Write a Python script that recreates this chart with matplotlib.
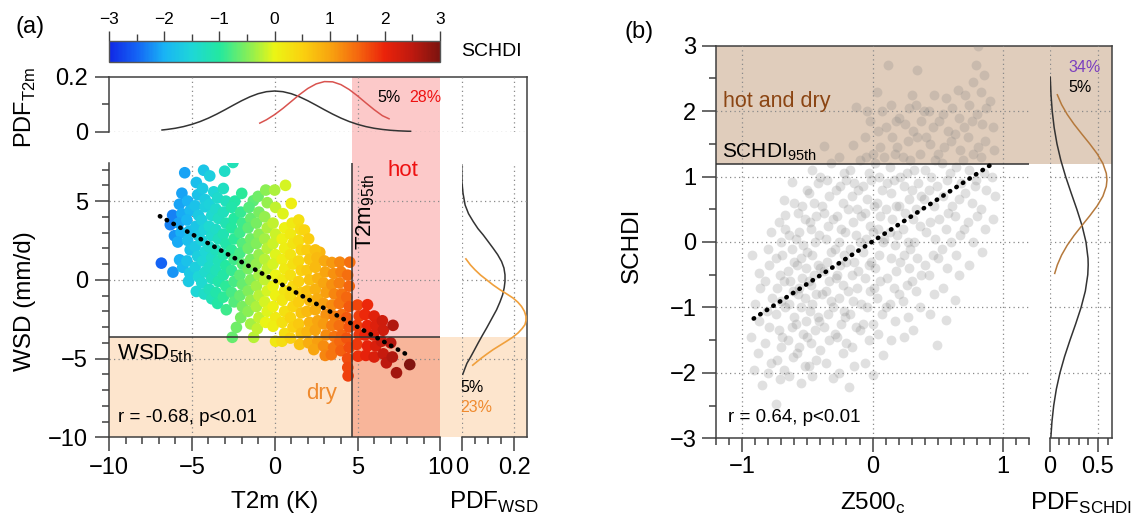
import numpy as np
import matplotlib
matplotlib.use('Agg')
import matplotlib.pyplot as plt
from matplotlib.colors import LinearSegmentedColormap, Normalize
from matplotlib.transforms import blended_transform_factory as blend
from matplotlib.ticker import MultipleLocator, FixedLocator
from matplotlib.patches import Rectangle

plt.rcParams['font.family'] = ['Liberation Sans', 'DejaVu Sans']
plt.rcParams['mathtext.fontset'] = 'custom'
plt.rcParams['mathtext.rm'] = 'Liberation Sans'
plt.rcParams['axes.unicode_minus'] = True

''' Data: panel (a) '''
# T2m (K), WSD (mm/d), SCHDI colour of each point
t2m = [-6.84, -6.14,
       -6.16, -6.3, -6.05,
       -5.43, -5.6, -5.75, -5.6, -5.8, -5.65, -5.85, -5.74, -5.55,
       -5.25, -5.1, -5.3, -5.15, -5.25, -5.1, -5.3, -5.13, -5.2,
       -4.73, -4.65, -4.8, -4.6, -4.75, -4.6, -4.8, -4.65, -4.8, -4.6, -4.73,
       -4.29, -4.35, -4.2, -4.2, -4.4, -4.25, -4.4, -4.2, -4.35, -4.2, -4.4, -4.25,
       -3.92, -3.68, -3.95, -3.8, -3.95, -3.8, -3.95, -3.8, -3.95, -3.8, -3.95, -3.8,
       -3.45, -3.55, -3.4, -3.55, -3.4, -3.55, -3.4, -3.55, -3.4, -3.55, -3.45,
       -3.02, -3.1, -2.95, -3.1, -2.95, -3.1, -2.95, -3.1, -2.95, -3.1, -2.95, -3.1, -2.92,
       -2.52, -2.4, -2.6, -2.45, -2.6, -2.45, -2.6, -2.45, -2.6, -2.45, -2.6, -2.45, -2.56, -2.31,
       -1.99, -2.05, -1.95, -2.1, -1.95, -2.1, -1.95, -2.1, -1.95, -2.1, -1.95, -2.05,
       -1.29, -1.55, -1.45, -1.6, -1.45, -1.6, -1.45, -1.6, -1.45, -1.6, -1.45, -1.6, -1.45, -1.27,
       -1.0, -0.95, -1.1, -0.95, -1.1, -0.95, -1.1, -0.95, -1.1, -0.95, -1.1, -0.95, -1.05,
       -0.54, -0.45, -0.6, -0.45, -0.6, -0.45, -0.6, -0.45, -0.6, -0.45, -0.6, -0.45, -0.55,
       0.0, 0.05, -0.1, 0.05, -0.1, 0.05, -0.1, 0.05, -0.1, 0.05, -0.1, 0.05, -0.1, 0.05,
       0.65, 0.5, 0.6, 0.45, 0.6, 0.45, 0.6, 0.45, 0.6, 0.45, 0.6, 0.45, 0.6, 0.44,
       1.0, 1.05, 0.95, 1.1, 0.95, 1.1, 0.95, 1.1, 0.95, 1.1, 0.95, 1.1, 0.95,
       1.45, 1.55, 1.45, 1.6, 1.45, 1.6, 1.45, 1.6, 1.45, 1.6, 1.45, 1.6, 1.5,
       1.8, 2.05, 1.95, 2.1, 1.95, 2.1, 1.95, 2.1, 1.95, 2.1, 1.95, 2.05,
       2.72, 2.45, 2.55, 2.45, 2.6, 2.45, 2.6, 2.45, 2.6, 2.45, 2.6, 2.36,
       3.0, 3.05, 2.95, 3.1, 2.95, 3.1, 2.95, 3.1, 2.95, 3.05,
       3.45, 3.55, 3.45, 3.6, 3.45, 3.6, 3.45, 3.6, 3.42, 3.55,
       3.93, 4.0, 3.9, 4.05, 3.9, 4.05, 3.9, 4.05, 3.93, 4.0,
       4.53, 4.4, 4.5, 4.35, 4.5, 4.35, 4.5, 4.35, 4.5, 4.4, 4.41, 4.43,
       5.0, 5.1, 4.95, 5.1, 4.95, 5.03,
       5.6, 5.45, 5.6, 5.45, 5.6, 5.5,
       6.0, 6.1, 5.95, 6.1, 6.0,
       6.5, 6.55, 6.45, 6.55, 6.74,
       7.14, 7.0, 7.1, 7.35,
       8.15]
wsd = [1.06, 0.49,
       4.1, 3.5, 2.8,
       6.8, 5.5, 4.8, 4.2, 3.6, 3.0, 2.4, 1.27, 0.8,
       5.0, 4.4, 3.8, 3.1, 2.5, 1.9, 1.2, 0.42, -0.1,
       6.18, 5.4, 4.7, 4.1, 3.4, 2.8, 2.1, 1.5, 0.8, 0.2, -0.74,
       6.96, 5.8, 5.1, 4.64, 3.8, 3.2, 2.5, 1.8, 1.2, 0.5, -0.2, -0.9,
       6.6, 5.59, 4.8, 4.1, 3.4, 2.8, 2.1, 1.4, 0.8, 0.1, -0.6, -1.2,
       5.2, 4.5, 3.9, 3.2, 2.6, 1.9, 1.2, 0.6, -0.1, -0.8, -1.5,
       6.9, 5.8, 5.0, 4.3, 3.6, 2.9, 2.3, 1.6, 0.9, 0.3, -0.4, -1.1, -1.9,
       7.45, 5.0, 4.6, 3.9, 3.3, 2.6, 1.9, 1.3, 0.6, -0.1, -0.8, -1.4, -3.65, -3.02,
       5.49, 4.3, 3.6, 3.0, 2.3, 1.7, 1.0, 0.3, -0.3, -1.0, -1.7, -2.4,
       5.02, 4.6, 3.9, 3.3, 2.6, 2.0, 1.3, 0.7, 0.0, -0.7, -1.3, -2.0, -2.8, -3.65,
       5.3, 4.3, 3.6, 2.9, 2.3, 1.6, 1.0, 0.3, -0.4, -1.0, -1.7, -2.4, -3.1,
       5.7, 4.9, 4.0, 3.3, 2.6, 2.0, 1.3, 0.7, 0.0, -0.7, -1.4, -2.0, -2.7,
       5.7, 4.6, 3.6, 2.9, 2.3, 1.6, 1.0, 0.3, -0.4, -1.0, -1.7, -2.4, -2.95, -3.9,
       6.0, 4.2, 3.3, 2.6, 2.0, 1.3, 0.7, 0.0, -0.7, -1.3, -2.0, -2.7, -3.4, -3.9,
       4.85, 3.6, 2.9, 2.3, 1.6, 1.0, 0.3, -0.4, -1.0, -1.7, -2.4, -3.0, -3.7,
       3.8, 3.2, 2.5, 1.9, 1.2, 0.6, -0.1, -0.8, -1.4, -2.1, -2.8, -3.4, -4.1,
       3.16, 2.6, 1.9, 1.3, 0.6, 0.0, -0.7, -1.3, -2.0, -2.7, -3.3, -4.0,
       1.75, 1.9, 1.4, 0.8, 0.1, -0.6, -1.2, -1.9, -2.6, -3.2, -3.9, -4.43,
       1.2, 0.5, -0.2, -0.8, -1.5, -2.2, -2.8, -3.5, -4.2, -4.8,
       1.1, 0.4, -0.3, -0.9, -1.6, -2.3, -2.9, -3.6, -4.75, -4.3,
       1.12, 0.5, -0.2, -0.9, -1.5, -2.2, -2.9, -3.5, -3.9, -4.5,
       1.12, 0.3, -0.4, -1.1, -1.7, -2.4, -3.0, -3.7, -4.3, -5.0, -5.57, -6.1,
       -1.6, -2.3, -2.9, -3.5, -4.1, -4.85,
       -1.58, -2.2, -2.9, -3.5, -4.2, -4.8,
       -2.3, -2.9, -3.5, -4.2, -4.9,
       -2.6, -3.2, -3.9, -4.7, -5.27,
       -2.89, -4.0, -4.9, -5.9,
       -5.38]
schdi = [-2.5, -2.2,
         -2.3, -2.3, -2.2,
         -2.1, -2.1, -2.1, -2.05, -2.1, -2.0, -2.05, -2.0, -1.9,
         -2.0, -1.9, -1.95, -1.85, -1.85, -1.8, -1.8, -1.7, -1.7,
         -1.85, -1.8, -1.8, -1.7, -1.75, -1.65, -1.7, -1.6, -1.6, -1.5, -1.5,
         -1.75, -1.7, -1.65, -1.6, -1.6, -1.55, -1.55, -1.5, -1.5, -1.4, -1.45, -1.35,
         -1.6, -1.5, -1.55, -1.45, -1.45, -1.4, -1.4, -1.35, -1.35, -1.25, -1.25, -1.2,
         -1.4, -1.4, -1.3, -1.35, -1.25, -1.25, -1.2, -1.2, -1.1, -1.1, -1.05,
         -1.35, -1.3, -1.25, -1.25, -1.15, -1.15, -1.1, -1.1, -1.0, -1.05, -0.95, -0.95, -0.85,
         -1.2, -1.05, -1.1, -1.0, -1.0, -0.95, -0.95, -0.85, -0.9, -0.8, -0.8, -0.75, -0.65, -0.6,
         -0.95, -0.9, -0.85, -0.85, -0.75, -0.8, -0.7, -0.7, -0.65, -0.65, -0.55, -0.55,
         -0.7, -0.75, -0.65, -0.7, -0.6, -0.6, -0.55, -0.55, -0.5, -0.5, -0.4, -0.45, -0.35, -0.25,
         -0.6, -0.55, -0.55, -0.45, -0.5, -0.4, -0.4, -0.35, -0.35, -0.25, -0.3, -0.2, -0.2,
         -0.45, -0.4, -0.4, -0.3, -0.35, -0.25, -0.25, -0.2, -0.2, -0.1, -0.1, -0.05, 0.0,
         -0.3, -0.2, -0.2, -0.15, -0.15, -0.05, -0.1, 0.0, 0.0, 0.05, 0.05, 0.15, 0.1, 0.2,
         -0.1, -0.05, 0.05, 0.05, 0.1, 0.1, 0.15, 0.15, 0.25, 0.2, 0.3, 0.3, 0.35, 0.35,
         0.1, 0.15, 0.15, 0.25, 0.25, 0.3, 0.3, 0.4, 0.35, 0.45, 0.45, 0.5, 0.5,
         0.3, 0.35, 0.35, 0.45, 0.4, 0.5, 0.5, 0.55, 0.55, 0.65, 0.6, 0.7, 0.7,
         0.45, 0.55, 0.55, 0.65, 0.6, 0.7, 0.7, 0.75, 0.75, 0.85, 0.8, 0.9,
         0.8, 0.7, 0.75, 0.75, 0.85, 0.85, 0.9, 0.9, 1.0, 1.0, 1.05, 1.0,
         0.95, 1.0, 1.0, 1.05, 1.05, 1.15, 1.1, 1.2, 1.2, 1.25,
         1.1, 1.15, 1.15, 1.25, 1.2, 1.3, 1.3, 1.4, 1.4, 1.4,
         1.25, 1.3, 1.3, 1.4, 1.4, 1.45, 1.45, 1.5, 1.5, 1.55,
         1.45, 1.45, 1.5, 1.5, 1.6, 1.6, 1.65, 1.65, 1.7, 1.7, 1.75, 1.8,
         1.75, 1.8, 1.8, 1.85, 1.85, 1.9,
         1.95, 1.95, 2.0, 2.0, 2.05, 2.05,
         2.1, 2.15, 2.15, 2.2, 2.2,
         2.3, 2.3, 2.35, 2.4, 2.5,
         2.6, 2.55, 2.6, 2.7,
         2.95]

# regression line end points (a)
fit_a_t2m = [-6.93, 8.15]
fit_a_wsd = [4.04, -4.85]

# PDF of T2m: all days (black) and hot days (red)
pdf_t2m_x = [-6.8, -6.5, -6, -5.5, -5, -4.5, -4, -3.5, -3, -2.5, -2, -1.5, -1, -0.5, 0,
             0.5, 1, 1.5, 2, 2.5, 3, 3.5, 4, 4.5, 5, 5.5, 6, 6.5, 7, 7.5, 8, 8.2]
pdf_t2m_all = [0.0062, 0.0082, 0.0125, 0.0186, 0.0267, 0.0369, 0.0494, 0.0639, 0.0798, 0.0964,
               0.1125, 0.1268, 0.1382, 0.1455, 0.148, 0.1455, 0.1382, 0.1268, 0.1125, 0.0964,
               0.0798, 0.0639, 0.0494, 0.0369, 0.0267, 0.0186, 0.0125, 0.0082, 0.0051, 0.0031,
               0.0018, 0.0015]
pdf_t2m_hot_x = [-0.9, -0.5, 0, 0.5, 1, 1.5, 2, 2.5, 3, 3.5, 4, 4.5, 5, 5.5, 6, 6.5, 6.9]
pdf_t2m_hot = [0.0312, 0.0433, 0.0623, 0.085, 0.110, 0.135, 0.1573, 0.1738, 0.1822, 0.1813,
               0.1711, 0.1532, 0.1301, 0.1048, 0.0802, 0.0582, 0.047]

# PDF of WSD: all days (black) and dry days (orange)
pdf_wsd_y = [7.3, 6.2, 5.5, 4.75, 4.2, 3.7, 3.25, 2.85, 2.45, 2.0, 1.6, 1.16, 0.75, 0.32, -0.1,
             -0.5, -0.95, -1.4, -1.9, -2.45, -3.06, -3.55, -4.0, -4.5, -4.96, -5.3, -5.6, -6.0]
pdf_wsd_all = [0.0, 0.001, 0.005, 0.013, 0.026, 0.044, 0.062, 0.082, 0.1, 0.12, 0.137, 0.152,
               0.161, 0.165, 0.165, 0.162, 0.156, 0.146, 0.133, 0.115, 0.095, 0.078, 0.063,
               0.047, 0.032, 0.02, 0.013, 0.004]
pdf_wsd_dry_y = [1.33, 0.95, 0.63, 0.3, 0.0, -0.33, -0.63, -0.9, -1.16, -1.42, -1.69, -2.0, -2.32,
                 -2.6, -2.85, -3.1, -3.37, -3.65, -3.9, -4.17, -4.43, -4.7, -4.96, -5.2, -5.42]
pdf_wsd_dry = [0.016, 0.033, 0.051, 0.072, 0.095, 0.12, 0.146, 0.172, 0.196, 0.214, 0.228, 0.239,
               0.245, 0.245, 0.241, 0.230, 0.215, 0.194, 0.171, 0.145, 0.12, 0.097, 0.076,
               0.058, 0.042]

t2m_95th = 4.64
wsd_5th = -3.63

''' Data: panel (b) '''
z500 = [-0.91, -0.85, -0.88, -0.93, -0.87, -0.9, -0.86, -0.87, -0.92,
        -0.8, -0.78, -0.82, -0.79, -0.81, -0.77, -0.82, -0.79, -0.8, -0.78,
        -0.74, -0.71, -0.73, -0.7, -0.72, -0.74, -0.7, -0.73, -0.71, -0.74, -0.7, -0.72, -0.68,
        -0.64, -0.61, -0.65, -0.62, -0.6, -0.64, -0.61, -0.63, -0.65, -0.6, -0.62, -0.64, -0.67, -0.6, -0.62,
        -0.55, -0.52, -0.56, -0.53, -0.51, -0.55, -0.52, -0.56, -0.54, -0.51, -0.55, -0.53, -0.56, -0.52, -0.54, -0.5,
        -0.46, -0.43, -0.47, -0.44, -0.42, -0.46, -0.43, -0.47, -0.45, -0.42, -0.46, -0.44, -0.47, -0.43, -0.45, -0.42, -0.46,
        -0.3, -0.36, -0.33, -0.37, -0.34, -0.32, -0.36, -0.33, -0.37, -0.35, -0.32, -0.36, -0.34, -0.37, -0.33, -0.35, -0.32, -0.37,
        -0.26, -0.23, -0.27, -0.24, -0.22, -0.26, -0.23, -0.27, -0.25, -0.22, -0.26, -0.24, -0.27, -0.23, -0.25, -0.22, -0.26,
        -0.18, -0.14, -0.16, -0.13, -0.17, -0.15, -0.12, -0.16, -0.14, -0.17, -0.13, -0.15, -0.12, -0.16, -0.14, -0.17, -0.15, -0.13,
        -0.06, -0.03, -0.07, -0.04, -0.02, -0.06, -0.03, -0.07, -0.05, -0.02, -0.06, -0.04, -0.07, -0.03, -0.05, -0.06, -0.02, -0.04,
        0.0, 0.08, 0.04, 0.07, 0.03, 0.06, 0.02, 0.05, 0.08, 0.04, 0.06, 0.03, 0.07, 0.05, 0.02, 0.06, 0.04, 0.07, 0.03,
        0.14, 0.17, 0.13, 0.16, 0.18, 0.14, 0.17, 0.13, 0.15, 0.18, 0.14, 0.16, 0.13, 0.17, 0.15, 0.18, 0.14, 0.12,
        0.24, 0.27, 0.23, 0.26, 0.28, 0.24, 0.27, 0.23, 0.25, 0.28, 0.24, 0.26, 0.23, 0.27, 0.25, 0.28,
        0.31, 0.36, 0.33, 0.37, 0.34, 0.32, 0.36, 0.33, 0.37, 0.35, 0.32, 0.36, 0.34, 0.37, 0.33, 0.34,
        0.44, 0.47, 0.43, 0.46, 0.48, 0.44, 0.47, 0.43, 0.45, 0.48, 0.44, 0.46, 0.43, 0.47,
        0.49, 0.56, 0.54, 0.57, 0.53, 0.56, 0.58, 0.54, 0.57, 0.53, 0.55, 0.58, 0.54, 0.56,
        0.63, 0.66, 0.64, 0.67, 0.63, 0.66, 0.68, 0.64, 0.67, 0.63, 0.66, 0.65,
        0.74, 0.77, 0.73, 0.76, 0.78, 0.74, 0.77, 0.73, 0.76, 0.74, 0.77,
        0.84, 0.86, 0.83, 0.87, 0.85, 0.83, 0.86, 0.84, 0.87, 0.83, 0.85, 0.81,
        0.92, 0.94, 0.91, 0.93, 0.92, 0.9,
        # denser core
        -0.68, -0.69, -0.67, -0.68, -0.69, -0.67,
        -0.58, -0.59, -0.57, -0.58, -0.59, -0.57,
        -0.49, -0.5, -0.48, -0.49, -0.5, -0.48, -0.49,
        -0.4, -0.41, -0.39, -0.4, -0.41, -0.39, -0.4,
        -0.29, -0.3, -0.28, -0.29, -0.3, -0.28,
        -0.2, -0.21, -0.19, -0.2, -0.21, -0.19, -0.2,
        -0.1, -0.09, -0.11, -0.1, -0.09, -0.11, -0.1,
        0.0, 0.01, -0.01, 0.0, 0.01, -0.01, 0.0,
        0.1, 0.11, 0.09, 0.1, 0.11, 0.09, 0.1,
        0.2, 0.21, 0.19, 0.2, 0.21, 0.19, 0.2,
        0.3, 0.29, 0.31, 0.3, 0.29, 0.31, 0.3,
        0.4, 0.41, 0.39, 0.4, 0.41, 0.39,
        0.5, 0.51, 0.49, 0.5, 0.51,
        0.6, 0.61, 0.59, 0.6, 0.61,
        0.7, 0.71, 0.69, 0.7, 0.71,
        0.8, 0.79, 0.81, 0.8, 0.79]
schdi_b = [-1.96, -2.19, -1.7, -1.45, -1.2, -0.95, -0.7, -0.48, -0.2,
           -2.0, -1.85, -1.55, -1.3, -1.05, -0.85, -0.6, -0.35, -0.1, 0.15,
           -2.47, -2.1, -1.8, -1.6, -1.35, -1.1, -0.9, -0.7, -0.5, -0.25, 0.0, 0.3, 0.64,
           -2.05, -1.75, -1.5, -1.3, -1.15, -0.95, -0.75, -0.6, -0.45, -0.3, -0.1, 0.1, 0.41, 0.6, 0.92,
           -2.15, -1.9, -1.6, -1.4, -1.2, -1.0, -0.85, -0.7, -0.55, -0.4, -0.25, -0.05, 0.15, 0.35, 0.55, 0.8,
           -2.05, -1.8, -1.55, -1.35, -1.15, -0.95, -0.8, -0.65, -0.5, -0.35, -0.2, 0.0, 0.2, 0.4, 0.6, 0.9, 1.1,
           -2.08, -1.85, -1.5, -1.3, -1.1, -0.9, -0.75, -0.6, -0.45, -0.3, -0.15, 0.05, 0.25, 0.45, 0.7, 0.95, 1.2, 1.46,
           -2.0, -1.7, -1.45, -1.25, -1.05, -0.85, -0.65, -0.5, -0.35, -0.2, 0.0, 0.2, 0.4, 0.6, 0.85, 1.05, 1.3,
           -2.21, -1.9, -1.6, -1.3, -1.1, -0.9, -0.7, -0.5, -0.3, -0.1, 0.1, 0.3, 0.5, 0.7, 0.9, 1.1, 1.48, 2.07,
           -1.85, -1.5, -1.25, -1.0, -0.75, -0.55, -0.35, -0.15, 0.05, 0.25, 0.45, 0.65, 0.85, 1.05, 1.3, 1.61, 1.85, 2.0,
           -2.03, -1.73, -1.4, -1.1, -0.85, -0.6, -0.4, -0.2, 0.0, 0.2, 0.4, 0.6, 0.8, 1.0, 1.2, 1.45, 1.7, 2.0, 2.3,
           -1.5, -1.2, -0.95, -0.7, -0.45, -0.25, -0.05, 0.15, 0.35, 0.55, 0.75, 0.95, 1.15, 1.35, 1.6, 1.85, 2.1, 2.71,
           -1.45, -1.15, -0.9, -0.65, -0.4, -0.2, 0.0, 0.2, 0.45, 0.65, 0.85, 1.05, 1.3, 1.55, 1.8, 2.05,
           -1.35, -1.0, -0.75, -0.5, -0.25, 0.0, 0.25, 0.5, 0.7, 0.9, 1.1, 1.35, 1.6, 1.85, 2.1, 2.63,
           -1.1, -0.8, -0.5, -0.2, 0.05, 0.3, 0.55, 0.8, 1.0, 1.25, 1.5, 1.75, 2.0, 2.25,
           -1.57, -1.19, -0.7, -0.4, -0.1, 0.2, 0.45, 0.7, 0.95, 1.2, 1.45, 1.7, 1.95, 2.2,
           -0.89, -0.5, -0.2, 0.1, 0.4, 0.65, 0.9, 1.15, 1.4, 1.65, 1.9, 2.32,
           -0.35, 0.0, 0.3, 0.6, 0.85, 1.1, 1.35, 1.6, 1.85, 2.1, 2.45,
           -0.15, 0.2, 0.5, 0.8, 1.05, 1.3, 1.55, 1.8, 2.05, 2.3, 2.55, 2.99,
           0.35, 0.7, 1.0, 1.4, 1.75, 2.15,
           # denser core
           -1.95, -1.45, -1.0, -0.6, -0.2, 0.2,
           -1.7, -1.25, -0.8, -0.35, 0.05, 0.45,
           -1.9, -1.45, -1.05, -0.6, -0.15, 0.3, 0.75,
           -1.65, -1.2, -0.8, -0.4, 0.1, 0.55, 1.0,
           -1.4, -1.0, -0.55, -0.1, 0.35, 0.8,
           -1.55, -1.15, -0.75, -0.3, 0.15, 0.5, 0.95,
           -1.35, -0.95, -0.45, 0.0, 0.4, 0.8, 1.25,
           -1.25, -0.7, -0.3, 0.15, 0.55, 0.95, 1.35,
           -1.0, -0.55, 0.05, 0.5, 0.9, 1.3, 1.75,
           -0.8, -0.3, 0.1, 0.55, 1.0, 1.45, 1.9,
           -0.6, -0.1, 0.35, 0.8, 1.25, 1.7, 2.25,
           -0.35, 0.15, 0.65, 1.1, 1.6, 2.0,
           -0.25, 0.35, 0.85, 1.35, 1.85,
           0.0, 0.55, 1.05, 1.55, 2.05,
           0.2, 0.75, 1.25, 1.75, 2.25,
           0.4, 0.95, 1.45, 1.95, 2.7]

fit_b_z = [-0.91, 0.92]
fit_b_s = [-1.17, 1.20]
schdi_95th = 1.19

# PDF of SCHDI: all days (black) and days with high Z500 (brown)
pdf_s_y = [2.52, 2.25, 2.0, 1.75, 1.5, 1.25, 1.0, 0.75, 0.5, 0.25, 0.0, -0.25, -0.35, -0.5,
           -0.75, -1.0, -1.25, -1.5, -1.75, -2.0, -2.25, -2.5, -2.75, -2.98]
pdf_s_all = [0.0076, 0.0155, 0.0281, 0.048, 0.0772, 0.1168, 0.1666, 0.2236, 0.2826, 0.3364,
             0.3771, 0.3981, 0.40, 0.3957, 0.3704, 0.3265, 0.271, 0.2118, 0.1559, 0.108,
             0.0705, 0.0434, 0.0251, 0.0144]
pdf_s_hi_y = [2.25, 2.1, 1.95, 1.8, 1.65, 1.5, 1.35, 1.2, 1.05, 0.95, 0.85, 0.7, 0.55, 0.4,
              0.25, 0.1, -0.05, -0.2, -0.35, -0.48]
pdf_s_hi = [0.081, 0.125, 0.183, 0.254, 0.334, 0.416, 0.492, 0.552, 0.587, 0.594, 0.587,
            0.552, 0.492, 0.416, 0.334, 0.254, 0.183, 0.125, 0.081, 0.054]

''' Colour map for SCHDI '''
cm_vals = [-3, -2.5, -2, -1.5, -1, -0.5, 0, 0.5, 1, 1.5, 2, 2.5, 3]
cm_cols = ['#1028e6', '#1464f5', '#19b4f5', '#1ed7d7', '#23e8a0', '#82ee5a', '#ebf514',
           '#fad20f', '#f8a50f', '#f5690f', '#eb230a', '#be190f', '#7d140f']
cmap = LinearSegmentedColormap.from_list(
    'schdi', [((v + 3) / 6, c) for v, c in zip(cm_vals, cm_cols)])
norm = Normalize(-3, 3)

''' Figure '''
W, H = 1135, 519
fig = plt.figure(figsize=(W / 100, H / 100), dpi=100)


def box(x0, y0, x1, y1):
    # pixel box -> figure fraction
    return [x0 / W, 1 - y1 / H, (x1 - x0) / W, (y1 - y0) / H]


def ftext(x, y, s, **kw):
    fig.text(x / W, 1 - y / H, s, **kw)


SP = '#404040'
GRID = dict(color='#8a8a8a', lw=0.9, ls=(0, (1, 2.6)), zorder=0.5)
TS = 17


def style(ax, show):
    ax.set_facecolor('none')
    for k in ['left', 'right', 'top', 'bottom']:
        ax.spines[k].set_visible(k in show)
        ax.spines[k].set_color(SP)
        ax.spines[k].set_linewidth(1.1)
    ax.tick_params(which='both', direction='out', color=SP, width=1.1, labelsize=TS)
    ax.tick_params(which='major', length=10)
    ax.tick_params(which='minor', length=5)


# ---------------- panel (a) ----------------
bg_a = fig.add_axes(box(109, 76.7, 527.3, 437.3))
bg_a.set_zorder(0)
style(bg_a, ['top', 'right'])
bg_a.set_xticks([]); bg_a.set_yticks([])

ax_top = fig.add_axes(box(109, 76.7, 527.3, 131.7))
ax_main = fig.add_axes(box(109, 163.3, 440.4, 437.3))
ax_pw = fig.add_axes(box(461.7, 163.3, 527.3, 437.3))
for a in (ax_top, ax_main, ax_pw):
    a.set_zorder(1)

style(ax_main, ['left', 'bottom'])
ax_main.set_xlim(-10, 10)
ax_main.set_ylim(-10, 7.4)
ax_main.xaxis.set_major_locator(MultipleLocator(5))
ax_main.xaxis.set_minor_locator(MultipleLocator(1))
ax_main.yaxis.set_major_locator(FixedLocator([-10, -5, 0, 5]))
ax_main.yaxis.set_minor_locator(MultipleLocator(1))
ax_main.tick_params(axis='x', pad=4)
ax_main.tick_params(axis='y', pad=5)

# shaded regions behind everything
tr_pink = blend(ax_main.transData, bg_a.transAxes)
bg_a.add_patch(Rectangle((t2m_95th, 0), 10 - t2m_95th, 1, transform=tr_pink,
                         facecolor='#fcc9c9', edgecolor='none', zorder=0))
tr_beige = blend(bg_a.transAxes, ax_main.transData)
bg_a.add_patch(Rectangle((0, -10), 1, wsd_5th + 10, transform=tr_beige,
                         facecolor='#fde5cd', edgecolor='none', zorder=0))
bg_a.add_patch(Rectangle((t2m_95th, -10), 10 - t2m_95th, wsd_5th + 10,
                         transform=ax_main.transData,
                         facecolor='#f8b59a', edgecolor='none', zorder=0.1))

for v in (-5, 0, 5):
    ax_main.axvline(v, **GRID)
    ax_main.axhline(v, **GRID)
ax_main.scatter(t2m, wsd, c=schdi, cmap=cmap, norm=norm, s=70, linewidths=0, zorder=2)
ax_main.axvline(t2m_95th, color='#333333', lw=1.1, zorder=3)
ax_main.axhline(wsd_5th, color='#333333', lw=1.1, zorder=3)
ax_main.plot(fit_a_t2m, fit_a_wsd, color='black', lw=3.3, ls=(0, (0.1, 1.6)),
             dash_capstyle='round', zorder=4)

# top PDF panel
style(ax_top, ['left'])
ax_top.set_xlim(-10, -10 + 20 * (527.3 - 109) / (440.4 - 109))
ax_top.set_ylim(0, 0.2)
ax_top.set_xticks([])
ax_top.set_yticks([0, 0.2])
ax_top.set_yticklabels(['0', '0.2'])
ax_top.yaxis.set_minor_locator(FixedLocator([0.1]))
ax_top.tick_params(axis='y', pad=5)
ax_top.axhline(0, **GRID)
for v in (-5, 0, 5):
    ax_top.axvline(v, **GRID)
tr_tp = blend(ax_pw.transData, ax_top.transAxes)
for v in (0, 0.2):
    ax_top.plot([v, v], [0, 1], transform=tr_tp, **GRID)
ax_top.plot(pdf_t2m_x, pdf_t2m_all, color='#333333', lw=1.1, zorder=3)
ax_top.plot(pdf_t2m_hot_x, pdf_t2m_hot, color='#d9534f', lw=1.1, zorder=3)

# right PDF panel
style(ax_pw, ['bottom'])
ax_pw.set_xlim(0, 0.25)
ax_pw.set_ylim(-10, 7.4)
ax_pw.set_yticks([])
ax_pw.set_xticks([0, 0.2])
ax_pw.set_xticklabels(['0', '0.2'])
ax_pw.xaxis.set_minor_locator(FixedLocator([0.05, 0.1, 0.15]))
ax_pw.tick_params(axis='x', pad=4)
for v in (-5, 0, 5):
    ax_pw.axhline(v, **GRID)
for v in (0, 0.2):
    ax_pw.axvline(v, **GRID)
ax_pw.plot(pdf_wsd_all, pdf_wsd_y, color='#333333', lw=1.1, zorder=3)
ax_pw.plot(pdf_wsd_dry, pdf_wsd_dry_y, color='#f0a03c', lw=1.2, zorder=3)

# colorbar
cax = fig.add_axes(box(109, 41, 440, 62))
cb = fig.colorbar(plt.cm.ScalarMappable(norm=norm, cmap=cmap), cax=cax,
                  orientation='horizontal')
cb.set_ticks([-3, -2, -1, 0, 1, 2, 3])
cax.xaxis.set_ticks_position('top')
cax.xaxis.set_minor_locator(MultipleLocator(0.5))
cax.tick_params(which='both', direction='out', color=SP, width=1.0, labelsize=12.5, pad=3)
cax.tick_params(which='major', length=7)
cax.tick_params(which='minor', length=5)
cb.outline.set_edgecolor('#555555')
cb.outline.set_linewidth(1.0)
ftext(461, 52, 'SCHDI', fontsize=14, ha='left', va='center')

# texts (a)
ftext(30, 27, '(a)', fontsize=17, ha='center', va='center')
ftext(25, 107, 'PDF$_{\\mathregular{T2m}}$', fontsize=17, rotation=90, ha='center', va='center')
ftext(25, 301, 'WSD (mm/d)', fontsize=17.5, rotation=90, ha='center', va='center')
ftext(275, 502, 'T2m (K)', fontsize=17.5, ha='center', va='center')
ftext(494, 502, 'PDF$_{\\mathregular{WSD}}$', fontsize=17.5, ha='center', va='center')
ftext(403, 170, 'hot', fontsize=16, color='#ee1111', ha='center', va='center')
ftext(366, 212, 'T2m$_{\\mathregular{95th}}$', fontsize=16, rotation=90, ha='center', va='center')
ftext(117, 359, 'WSD$_{\\mathregular{5th}}$', fontsize=16, ha='left', va='baseline')
ftext(322, 393, 'dry', fontsize=16, color='#ef8a2e', ha='center', va='center')
ftext(118, 417, 'r = -0.68, p<0.01', fontsize=13.5, ha='left', va='center')
ftext(377, 97, '5%', fontsize=11.5, ha='left', va='center')
ftext(409, 97, '28%', fontsize=11.5, color='#ee1111', ha='left', va='center')
ftext(460, 387, '5%', fontsize=11.5, ha='left', va='center')
ftext(460, 407, '23%', fontsize=11.5, color='#ef8a2e', ha='left', va='center')

# ---------------- panel (b) ----------------
bg_b = fig.add_axes(box(715.8, 45.7, 1111.9, 438.3))
bg_b.set_zorder(0)
style(bg_b, ['top', 'right'])
bg_b.set_xticks([]); bg_b.set_yticks([])
bg_b.set_ylim(-3, 3)
bg_b.axhspan(schdi_95th, 3, facecolor='#e0cdbc', edgecolor='none', zorder=0)

ax_b = fig.add_axes(box(715.8, 45.7, 1029.4, 438.3))
ax_ps = fig.add_axes(box(1049.5, 45.7, 1111.9, 438.3))
for a in (ax_b, ax_ps):
    a.set_zorder(1)

style(ax_b, ['left', 'bottom'])
ax_b.set_xlim(-1.2, 1.2)
ax_b.set_ylim(-3, 3)
ax_b.xaxis.set_major_locator(MultipleLocator(1))
ax_b.xaxis.set_minor_locator(MultipleLocator(0.1))
ax_b.yaxis.set_major_locator(MultipleLocator(1))
ax_b.yaxis.set_minor_locator(MultipleLocator(0.5))
ax_b.tick_params(axis='x', pad=3)
ax_b.tick_params(axis='y', pad=4)
for v in (-1, 0, 1):
    ax_b.axvline(v, **GRID)
for v in (-2, -1, 0, 1, 2):
    ax_b.axhline(v, **GRID)
ax_b.scatter(z500, schdi_b, s=50, color='#808080', alpha=0.24, linewidths=0, zorder=2)
ax_b.axhline(schdi_95th, color='#333333', lw=1.1, zorder=3)
ax_b.plot(fit_b_z, fit_b_s, color='black', lw=3.3, ls=(0, (0.1, 1.6)),
          dash_capstyle='round', zorder=4)

style(ax_ps, ['bottom'])
ax_ps.set_xlim(0, 0.645)
ax_ps.set_ylim(-3, 3)
ax_ps.set_yticks([])
ax_ps.set_xticks([0, 0.5])
ax_ps.set_xticklabels(['0', '0.5'])
ax_ps.xaxis.set_minor_locator(FixedLocator([0.1, 0.2, 0.3, 0.4, 0.6]))
ax_ps.tick_params(axis='x', pad=3)
for v in (-2, -1, 0, 1, 2):
    ax_ps.axhline(v, **GRID)
for v in (0, 0.5):
    ax_ps.axvline(v, **GRID)
ax_ps.plot(pdf_s_all, pdf_s_y, color='#333333', lw=1.1, zorder=3)
ax_ps.plot(pdf_s_hi, pdf_s_hi_y, color='#b5793c', lw=1.1, zorder=3)

# texts (b)
ftext(639, 32, '(b)', fontsize=17, ha='center', va='center')
ftext(632, 245, 'SCHDI', fontsize=17.5, rotation=90, ha='center', va='center')
ftext(873, 503, 'Z500$_{\\mathregular{c}}$', fontsize=17.5, ha='center', va='center')
ftext(1081, 503, 'PDF$_{\\mathregular{SCHDI}}$', fontsize=17.5, ha='center', va='center')
ftext(723, 102, 'hot and dry', fontsize=15.5, color='#8b4513', ha='left', va='center')
ftext(722, 157, 'SCHDI$_{\\mathregular{95th}}$', fontsize=15, ha='left', va='baseline')
ftext(728, 417, 'r = 0.64, p<0.01', fontsize=13.5, ha='left', va='center')
ftext(1068, 68, '34%', fontsize=11.5, color='#7b3fbf', ha='left', va='center')
ftext(1068, 88, '5%', fontsize=11.5, ha='left', va='center')

fig.savefig('out.png', dpi=100)
